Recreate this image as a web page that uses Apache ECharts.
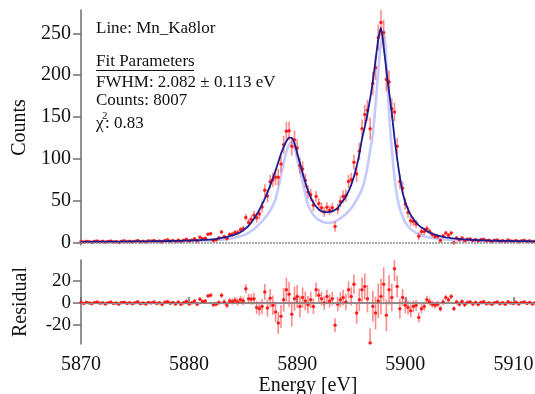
<!DOCTYPE html>
<html>
<head>
<meta charset="utf-8">
<script src="https://cdn.jsdelivr.net/npm/echarts@6/dist/echarts.min.js"></script>
<style>
  html, body { margin: 0; padding: 0; background: #fff; }
  #chart { width: 535px; height: 394px; }
</style>
</head>
<body>
<div id="chart"></div>
<script>
// bins: 5870 .. 5912 eV, 0.25 eV wide
const binStart = 5870;
const binWidth = 0.25;

// fitted model (dark blue), one value per bin
const fitCounts = [
  0.8, 0.8, 0.8, 0.85,
  0.85, 0.9, 0.9, 0.9,
  0.95, 0.95, 1.0, 1.0,
  1.0, 1.05, 1.1, 1.1,
  1.15, 1.15, 1.2, 1.2,
  1.25, 1.3, 1.3, 1.35,
  1.4, 1.4, 1.45, 1.5,
  1.55, 1.6, 1.65, 1.7,
  1.75, 1.8, 1.9, 1.95,
  2.0, 2.1, 2.2, 2.3,
  2.4, 2.5, 2.6, 2.75,
  2.9, 3.05, 3.2, 3.4,
  3.6, 3.9, 4.3, 4.8,
  5.4, 6.0, 6.7, 7.5,
  8.4, 9.5, 10.8, 12.3,
  14.5, 17, 20, 24,
  28.5, 33.5, 39, 45.5,
  52.5, 60, 68, 77,
  86, 96, 106, 114,
  121, 125.5, 125, 119,
  107, 95, 83, 72,
  62, 54, 47.5, 43,
  39.5, 37.5, 36.5, 36,
  36.5, 37.5, 39, 41,
  46, 50, 55, 61,
  69, 79, 91, 106,
  124, 138, 154, 172,
  193, 218, 243, 257,
  234, 206, 180, 155,
  125, 100, 78, 60,
  48, 40, 33, 28,
  24, 20.5, 18, 16,
  13.5, 12, 10.5, 9.3,
  8.3, 7.5, 6.8, 6.2,
  5.7, 5.2, 4.8, 4.5,
  4.2, 3.9, 3.7, 3.5,
  3.3, 3.1, 3.0, 2.85,
  2.7, 2.6, 2.5, 2.4,
  2.3, 2.2, 2.1, 2.05,
  2.0, 1.9, 1.85, 1.8,
  1.75, 1.7, 1.65, 1.6,
  1.55, 1.5, 1.45, 1.4,
  1.4
];

// data - fit, one value per bin
const residuals = [
  0.5, -0.3, 0.8, 0.2,
  -0.5, 0.6, 1.0, -0.2,
  0.4, -0.8, 0.3, 0.9,
  -0.4, 0.2, -1.0, 0.5,
  0.8, -0.3, 0.4, -0.6,
  0.3, 1.2, -0.5, 0.1,
  -0.9, 0.6, 0.2, 1.0,
  -0.4, 0.3, -1.2, 0.7,
  1.4, -0.2, 0.5, -0.8,
  0.9, -1.1, 0.4, 1.6,
  -0.7, 0.3, 1.8, -1.0,
  3.5, 1.5, 2.0, 6.5,
  7.0, -1.5, -1.0, 0.5,
  7.0, 1.0, -2.0, 2.0,
  1.5, 2.5, 1.0, 3.0,
  2.0, 13.0, 4.0, 3.5,
  4.0, -4.0, -5.0, -3.0,
  10.0, -4.5, 4.5, -2.0,
  -8, -18, -12, 3,
  12, 8, -10, 4,
  6, -3, 5, 2,
  -1.5, 3, -3, 12,
  7, 4, 0, 6,
  2, 4, -20, -1,
  3, 5, 1, 12,
  6, 17, -9, 3,
  12, 15, 4, -36,
  -3, -9, 2, 6,
  17, -11, 12, 5,
  31, 15, -5, 5,
  -2, -4, -7, -3,
  -2, -13, -5, -3,
  3, 1, -1, -2,
  -1, -5, 1, 5,
  3, 6, -5, 1,
  -1, 1.5, -1.5, 0.5,
  1.0, -0.8, 0.5, -1.2,
  0.6, 1.3, -0.5, 0.2,
  -1.0, 0.4, 0.9, -0.6,
  0.3, -1.1, 1.2, 0.1,
  -0.4, 0.8, -0.9, 0.5,
  1.0, -0.3, 0.6, -0.7,
  0.2
];

// intrinsic line shape (light blue)
const shapeEnergy = [
  5870, 5872, 5874, 5876, 5878, 5880, 5881, 5882, 5883, 5884, 5884.5, 5885, 5885.5,
  5886, 5886.5, 5887, 5887.5, 5888, 5888.5, 5888.75, 5889, 5889.25, 5889.5, 5889.75,
  5890, 5890.25, 5890.5, 5890.75, 5891, 5891.5, 5892, 5892.5, 5893, 5893.5, 5894,
  5894.5, 5895, 5895.5, 5896, 5896.25, 5896.5, 5896.75, 5897, 5897.25, 5897.5, 5897.75,
  5898, 5898.25, 5898.5, 5898.75, 5899, 5899.25, 5899.5, 5900, 5900.5, 5901, 5901.5,
  5902, 5903, 5904, 5905, 5906, 5907, 5908, 5909, 5910, 5911, 5912
];
const shapeCounts = [
  0.5, 0.6, 0.7, 0.9, 1.2, 1.65, 2.0, 2.5, 3.2, 5, 6.5, 8.5, 11.5,
  16, 22, 29, 38, 52, 80, 95, 108, 117, 120, 114,
  100, 86, 72, 58, 45, 33, 27, 24, 23.5, 25, 29,
  34, 41, 51, 64, 75, 90, 110, 130, 165, 205, 238,
  250, 215, 155, 112, 78, 55, 40, 24, 16, 11.5, 8.5,
  6.6, 4.4, 3.2, 2.5, 2.0, 1.7, 1.45, 1.25, 1.1, 1.0, 0.9
];

const countTicks = [0, 50, 100, 150, 200, 250];
const residualTicks = [-20, 0, 20];

const serif = '"Liberation Serif", "Times New Roman", serif';
const axisGrey = '#6e6e6e';
const textFont = '17px ' + serif;

const energies = fitCounts.map((_, i) => binStart + i * binWidth);
const counts = fitCounts.map((f, i) => f + residuals[i]);
const errors = fitCounts.map((f) => Math.sqrt(Math.max(f, 0.6)));

const fitLine = energies.map((e, i) => [e, fitCounts[i]]);
const countPoints = energies.map((e, i) => [e, counts[i], errors[i]]);
const residualPoints = energies.map((e, i) => [e, residuals[i], errors[i]]);
const shapeLine = shapeEnergy.map((e, i) => [e, shapeCounts[i]]);

const errorBars = (params, api) => {
  const x = api.value(0);
  const y = api.value(1);
  const err = api.value(2);
  const top = api.coord([x, y + err]);
  const bot = api.coord([x, y - err]);
  const l = api.coord([x - binWidth / 2, y]);
  const r = api.coord([x + binWidth / 2, y]);
  return {
    type: 'group',
    children: [
      { type: 'line', shape: { x1: top[0], y1: top[1], x2: bot[0], y2: bot[1] },
        style: { stroke: 'rgba(255,60,60,0.6)', lineWidth: 1.6 } },
      { type: 'line', shape: { x1: l[0], y1: l[1], x2: r[0], y2: r[1] },
        style: { stroke: 'rgba(255,0,0,0.9)', lineWidth: 1.2 } }
    ]
  };
};

const titleStyle = { color: '#111', fontFamily: serif, fontSize: 20 };

const chart = echarts.init(document.getElementById('chart'));
chart.setOption({
  animation: false,
  grid: [
    { left: 81, right: 0, top: 10, height: 235, outerBoundsMode: 'none' },
    { left: 81, right: 0, top: 260, height: 84, outerBoundsMode: 'none' }
  ],
  xAxis: [
    { gridIndex: 0, type: 'value', min: 5870, max: 5912, show: false },
    {
      gridIndex: 1, type: 'value', min: 5870, max: 5912, interval: 10,
      name: 'Energy [eV]', nameLocation: 'middle', nameGap: 29,
      nameTextStyle: titleStyle,
      axisLine: { lineStyle: { color: axisGrey, width: 1.5 } },
      axisTick: { inside: true, length: 6, lineStyle: { color: axisGrey, width: 1.5 } },
      axisLabel: { color: '#111', fontFamily: serif, fontSize: 20, margin: 11, formatter: (v) => String(v) },
      splitLine: { show: false }
    }
  ],
  yAxis: [
    {
      gridIndex: 0, type: 'value', min: -3, max: 278,
      name: 'Counts', nameLocation: 'middle', nameGap: 49,
      nameTextStyle: titleStyle,
      axisLine: { show: true, lineStyle: { color: axisGrey, width: 1.5 } },
      axisTick: { show: true, length: 8, customValues: countTicks, lineStyle: { color: axisGrey, width: 1.5 } },
      axisLabel: { customValues: countTicks, color: '#111', fontFamily: serif, fontSize: 20, margin: 10 },
      splitLine: { show: false }
    },
    {
      gridIndex: 1, type: 'value', min: -37, max: 39,
      name: 'Residual', nameLocation: 'middle', nameGap: 50,
      nameTextStyle: titleStyle,
      axisLine: { show: true, lineStyle: { color: axisGrey, width: 1.5 } },
      axisTick: { show: true, length: 8, customValues: residualTicks, lineStyle: { color: axisGrey, width: 1.5 } },
      axisLabel: { customValues: residualTicks, color: '#111', fontFamily: serif, fontSize: 19, margin: 10 },
      splitLine: { show: false }
    }
  ],
  series: [
    {
      type: 'line', xAxisIndex: 0, yAxisIndex: 0, data: shapeLine,
      smooth: 0.3, showSymbol: false, z: 1,
      lineStyle: { color: 'rgba(140,150,250,0.5)', width: 2.6 },
      markLine: {
        silent: true, symbol: 'none', label: { show: false },
        lineStyle: { color: '#8c8c8c', type: [2, 1], width: 1.5 },
        data: [{ yAxis: 0 }]
      }
    },
    {
      type: 'custom', xAxisIndex: 0, yAxisIndex: 0, data: countPoints,
      renderItem: errorBars, clip: true, z: 2
    },
    {
      type: 'scatter', xAxisIndex: 0, yAxisIndex: 0, data: countPoints,
      symbolSize: 3.5, itemStyle: { color: '#ff1010' }, z: 3
    },
    {
      type: 'line', xAxisIndex: 0, yAxisIndex: 0, data: fitLine,
      smooth: 0.2, showSymbol: false, z: 4,
      lineStyle: { color: '#1c1c8f', width: 1.8 }
    },
    {
      type: 'custom', xAxisIndex: 1, yAxisIndex: 1, data: residualPoints,
      renderItem: errorBars, clip: true, z: 2,
      markLine: {
        silent: true, symbol: 'none', label: { show: false },
        lineStyle: { color: '#8c8c8c', type: 'solid', width: 1 },
        data: [{ yAxis: 0 }]
      }
    },
    {
      type: 'scatter', xAxisIndex: 1, yAxisIndex: 1, data: residualPoints,
      symbolSize: 3.5, itemStyle: { color: '#ff1010' }, z: 3
    }
  ],
  graphic: [
    { type: 'text', left: 96, top: 20, style: { text: 'Line: Mn_Ka8lor', font: textFont, fill: '#111' } },
    { type: 'text', left: 96, top: 53, style: { text: 'Fit Parameters', font: textFont, fill: '#111' } },
    { type: 'line', shape: { x1: 96, y1: 70.5, x2: 194, y2: 70.5 }, style: { stroke: '#111', lineWidth: 1 } },
    { type: 'text', left: 96, top: 74, style: { text: 'FWHM: 2.082 \u00b1 0.113 eV', font: textFont, fill: '#111' } },
    { type: 'text', left: 96, top: 92, style: { text: 'Counts: 8007', font: textFont, fill: '#111' } },
    { type: 'text', left: 96, top: 115, style: { text: '\u03c7', font: textFont, fill: '#111' } },
    { type: 'text', left: 102, top: 111, style: { text: '2', font: '11px ' + serif, fill: '#111' } },
    { type: 'text', left: 105, top: 115, style: { text: ': 0.83', font: textFont, fill: '#111' } }
  ]
});
</script>
</body>
</html>
